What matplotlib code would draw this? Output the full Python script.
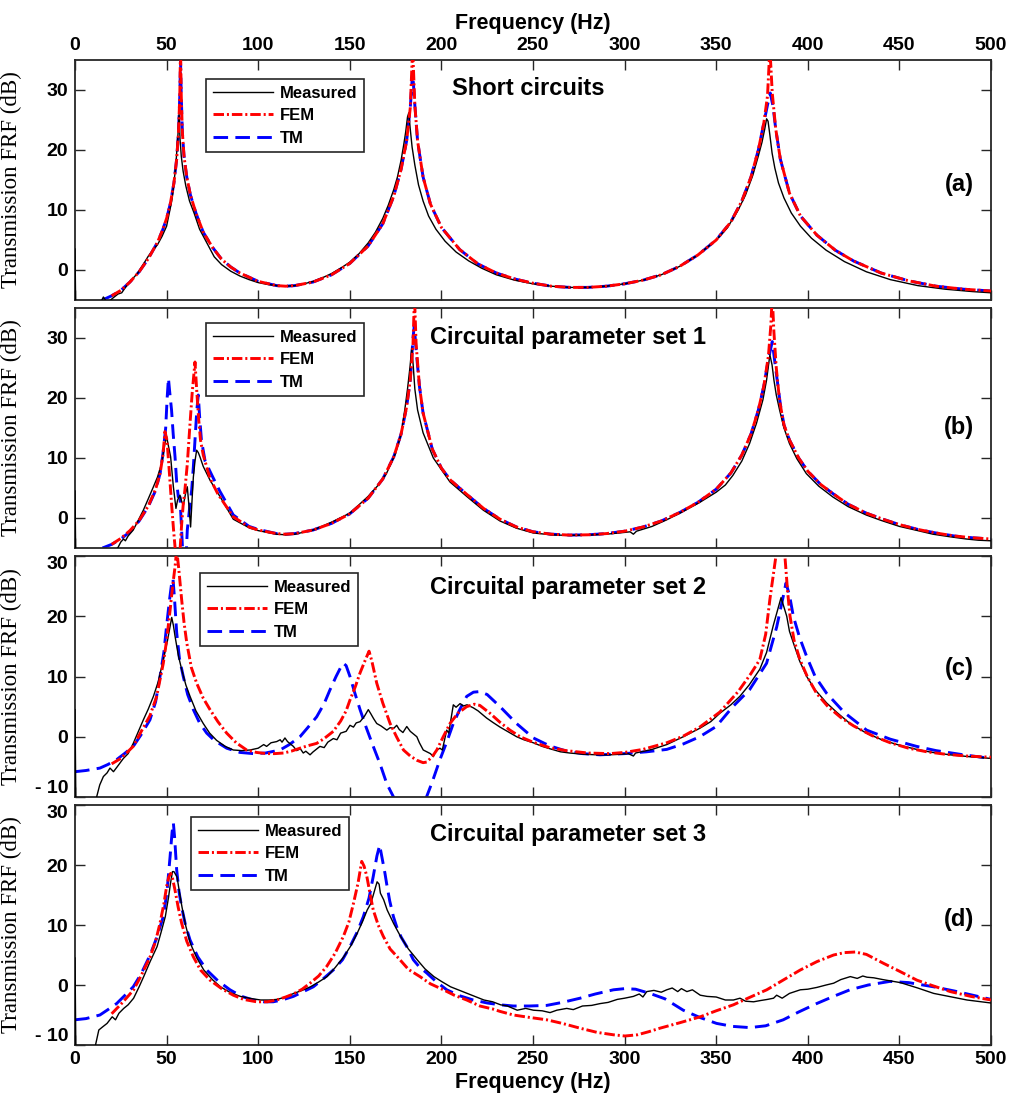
import matplotlib
matplotlib.use("Agg")
import matplotlib.pyplot as plt
import numpy as np

plt.rcParams['font.family'] = ['Liberation Sans', 'DejaVu Sans']
plt.rcParams['font.weight'] = 'bold'
plt.rcParams['axes.labelweight'] = 'bold'

# ---------------- Panel (a): Short circuits ----------------
a_meas_f = [0, 0.6, 8, 14, 15.5, 17, 19, 21, 23.5, 25.5, 28, 31, 34, 37, 40, 43, 45, 47.5, 50, 53, 55, 56.3, 56.8,
            57.3, 58, 59, 60.5, 62.5, 65, 68, 72, 76, 80, 85, 90, 95, 100, 105, 110, 115, 120, 125, 130, 135, 140,
            145, 150, 155, 160, 164, 168, 171, 174, 176, 178, 179.5, 180.5, 181.5, 182.2, 183, 184, 185.5, 187.5,
            190, 193, 197, 202, 208, 215, 222, 230, 240, 250, 260, 270, 280, 290, 300, 310, 320, 330, 340, 350,
            356, 362, 366, 370, 373, 375, 376.5, 377.5, 378.3, 379.3, 380.5, 382, 384, 387, 391, 396, 402, 410,
            420, 432, 445, 460, 475, 490, 500]
a_meas = [3.5, -12, -9, -5.4, -4.5, -5.2, -5.1, -4.6, -4.0, -3.8, -2.7, -1.6, -0.6, 0.8, 2.3, 3.5, 4.2, 5.6, 7.3, 11.8,
          17.3, 23, 26, 22, 19, 16.5, 14, 11.5, 9.5, 6.8, 4.5, 2.2, 0.9, -0.2, -1.0, -1.6, -2.1, -2.4, -2.6, -2.7,
          -2.6, -2.3, -1.9, -1.3, -0.6, 0.3, 1.3, 2.7, 4.5, 6.3, 8.6, 10.8, 13.4, 15.5, 18.3, 21, 23, 25.5, 26.2,
          23.5, 20.5, 17.5, 14.2, 11.5, 9.0, 6.8, 4.8, 3.0, 1.5, 0.3, -0.8, -1.7, -2.3, -2.7, -2.9, -2.9, -2.7,
          -2.3, -1.7, -0.8, 0.6, 2.5, 5.0, 7.0, 10.0, 12.5, 15.8, 19, 21.3, 23.5, 25.2, 24.8, 22.5, 19.5, 17,
          14.5, 12, 9.5, 7.3, 5.3, 3.3, 1.4, -0.3, -1.6, -2.6, -3.2, -3.6, -3.8]

a_fem_f = [20, 25, 30, 35, 40, 45, 48, 50, 52, 54, 55.5, 56.5, 57.2, 57.6, 58.0, 58.6, 59.5, 61, 63, 66, 70, 75,
           80, 85, 90, 100, 110, 115, 120, 130, 140, 150, 160, 168, 174, 178, 181, 183, 184.3, 185.5, 187, 190,
           194, 200, 210, 220, 230, 240, 250, 260, 270, 280, 290, 300, 310, 320, 330, 340, 350, 358, 364, 369,
           373, 376, 378, 379.3, 380.6, 382.5, 385, 390, 396, 405, 415, 425, 440, 455, 470, 485, 500]
a_fem = [-4.3, -3.4, -2.0, -0.3, 1.9, 4.6, 6.8, 8.6, 11, 14.5, 18.5, 23, 29, 37, 29, 23, 19, 15.5, 12.5, 9.5, 6.3,
         3.8, 1.8, 0.5, -0.5, -1.9, -2.6, -2.7, -2.6, -2.0, -0.8, 1.1, 4.0, 7.7, 12.3, 16.8, 21.5, 27, 37, 27.5,
         21.5, 15.5, 11, 7.1, 3.4, 1.0, -0.5, -1.5, -2.2, -2.7, -2.9, -2.9, -2.7, -2.3, -1.7, -0.8, 0.6, 2.5,
         5.0, 8.0, 11.5, 15.5, 20, 24.5, 29, 37, 29.5, 23.5, 18.5, 12.8, 9, 5.8, 3.3, 1.5, -0.5, -1.8, -2.7,
         -3.2, -3.5]

a_tm_f = [15, 20, 25, 30, 35, 40, 45, 48, 50, 52, 54, 55.5, 56.5, 57.2, 57.6, 58.0, 58.6, 59.5, 61, 63, 66, 70,
          75, 80, 85, 90, 100, 110, 115, 120, 130, 140, 150, 160, 168, 174, 178, 181, 183, 184.3, 185.5, 187,
          190, 194, 200, 210, 220, 230, 240, 250, 260, 270, 280, 290, 300, 310, 320, 330, 340, 350, 358, 364,
          369, 373, 376, 378, 379.5, 381, 382.5, 385, 390, 396, 405, 415, 425, 440, 455, 470, 485, 500]
a_tm = [-5.0, -4.3, -3.4, -2.0, -0.3, 1.9, 4.6, 6.8, 8.6, 11, 14.5, 18.5, 23, 29, 35, 29, 23, 19, 15.5, 12.5, 9.5,
        6.3, 3.8, 1.8, 0.5, -0.5, -1.9, -2.6, -2.7, -2.6, -2.0, -0.8, 1.1, 4.0, 7.7, 12.3, 16.8, 21.5, 27, 33,
        27.5, 21.5, 15.5, 11, 7.1, 3.4, 1.0, -0.5, -1.5, -2.2, -2.7, -2.9, -2.9, -2.7, -2.3, -1.7, -0.8, 0.6,
        2.5, 5.0, 8.0, 11.5, 15.5, 20, 24.5, 27.5, 29.5, 27.3, 23.5, 18.5, 12.8, 9, 5.8, 3.3, 1.5, -0.5, -1.8,
        -2.7, -3.2, -3.5]

# ---------------- Panel (b): Circuital parameter set 1 ----------------
b_meas_f = [0, 0.6, 10, 20, 23.5, 25, 26.5, 27.5, 29, 31.8, 34.5, 37.3, 40, 42.8, 45, 47.3, 49.1, 50, 51, 52.2, 53,
            53.7, 55.1, 56, 57.3, 58.2, 59.1, 60.3, 61.3, 62.2, 63.1, 63.8, 64.6, 65.5, 66.4, 67.3, 68.2, 70, 73.7,
            79.1, 86.4, 95.5, 100, 110, 115, 120, 130, 140, 150, 160, 165, 170, 175, 178, 180, 181.5, 182.8, 183.8,
            184.6, 185.5, 187, 190, 195.6, 204.7, 213.8, 222.9, 232, 241, 250.2, 260, 268.4, 280, 290, 300, 303,
            304.8, 306.5, 315, 323, 332, 341, 350, 355, 359.1, 364, 368.2, 372, 375.5, 377.5, 379.3, 380.5, 381.5,
            382.8, 384.6, 387, 390, 394, 399.2, 406, 413.7, 422, 431.9, 440, 450, 460, 468.3, 477, 486.5, 493, 500]
b_meas = [4.5, -12, -9, -6, -4.9, -4.0, -3.5, -3.8, -3.0, -2.0, -0.4, 1.3, 3.2, 5.2, 6.8, 9.1, 12.4, 13.6, 12,
          10.2, 7.5, 5.2, 1.6, 3.0, 3.8, 2.8, 2.1, 4.0, 5.2, 2, -1.5, 2.5, 6.8, 9.5, 11.3, 10.9, 10.2, 8.6, 6.3,
          3.6, -0.2, -1.7, -2.1, -2.7, -2.8, -2.7, -2.0, -0.7, 0.8, 3.6, 5.3, 7.4, 10.8, 14, 18, 21.5, 25, 28.3,
          25.5, 21.5, 18, 14.2, 10, 6, 3.6, 1.3, -0.5, -1.7, -2.5, -2.8, -2.9, -2.85, -2.7, -2.4, -2.3, -2.7,
          -2.2, -1.4, -0.3, 1.1, 2.6, 4.3, 5.5, 7.1, 9.5, 12.4, 15.8, 19.7, 23, 27.2, 25.5, 23, 20.5, 18, 15,
          12.4, 9.9, 7.4, 5.3, 3.5, 1.9, 0.5, -0.4, -1.4, -2.1, -2.7, -3.1, -3.5, -3.7, -3.8]

b_fem_f = [20, 25, 30, 35, 40, 44, 46.5, 48, 49.1, 50.2, 51.3, 52.7, 53.8, 54.6, 55.3, 56.2, 57.2, 58.2, 59, 60,
           61.3, 62.8, 64, 65.5, 66.5, 67.5, 68.5, 70, 73.7, 78, 86.4, 95, 100, 110, 115, 120, 130, 140, 150, 160,
           168, 174, 178, 181, 183, 184.5, 185.3, 186.2, 188, 190, 195, 200, 205, 214, 223, 232, 241, 250, 260,
           270, 280, 290, 300, 310, 320, 330, 340, 350, 358, 364, 369, 373, 376, 378.5, 379.8, 380.6, 381.5,
           382.8, 384.6, 387, 390, 395, 400, 407, 414, 422, 432, 441, 450, 460, 470, 480, 490, 500]
b_fem = [-4.4, -3.4, -2.1, -0.4, 2.0, 4.8, 7.5, 10.5, 14.4, 13, 8.5, 2.4, -2, -4.8, -9, -12, -6, -1.1, 2, 4.7, 9,
         15.8, 21, 26, 21, 16.5, 13, 10.5, 6.6, 4.0, 0.2, -1.5, -2.0, -2.6, -2.7, -2.6, -2.0, -0.9, 0.7, 3.3, 6.5,
         10.2, 14, 18.5, 23, 29, 37, 29, 22, 17.5, 11.5, 8.3, 6.3, 3.9, 1.6, -0.2, -1.5, -2.3, -2.7, -2.85, -2.8,
         -2.6, -2.2, -1.5, -0.5, 0.9, 2.6, 4.8, 7.5, 10.5, 14, 18, 22, 27, 32, 37, 31, 25, 19.5, 15.5, 13, 10,
         7.8, 5.6, 4.0, 2.3, 0.8, -0.2, -1.1, -1.9, -2.5, -3.0, -3.3, -3.5]

b_tm_f = [15, 20, 25, 30, 35, 40, 44, 46.5, 48, 49.5, 50.3, 51, 51.7, 52.7, 53.6, 54.6, 55.5, 56.4, 57.3, 58.2, 59,
          60, 61, 61.3, 62.5, 63.7, 64.6, 65.5, 66.5, 67.3, 68, 69, 71, 74.6, 79, 86.4, 95, 100, 110, 115, 120,
          130, 140, 150, 160, 168, 174, 178, 181, 183, 184.5, 185.2, 186.2, 188, 190, 195, 200, 205, 214, 223,
          232, 241, 250, 260, 270, 280, 290, 300, 310, 320, 330, 340, 350, 358, 364, 369, 373, 376, 378.5, 380.6,
          382, 383.5, 385, 387, 390, 395, 400, 407, 414, 422, 432, 441, 450, 460, 470, 480, 490, 500]
b_tm = [-5.0, -4.4, -3.5, -2.3, -0.5, 1.9, 4.6, 7.5, 10.7, 15, 20, 23.3, 21, 18, 14, 10.2, 6, 3.5, 3.5, -2, -7, -12,
        -4, -2, 1.5, 4.7, 8.5, 13, 18, 20.5, 17, 13, 9.5, 7.2, 4.5, 0.5, -1.4, -1.9, -2.6, -2.7, -2.6, -2.0,
        -0.9, 0.7, 3.3, 6.5, 10.2, 14, 18.5, 23, 30, 32, 28, 22, 17.5, 11.5, 8.3, 6.3, 3.9, 1.6, -0.2, -1.5,
        -2.3, -2.7, -2.85, -2.8, -2.6, -2.2, -1.5, -0.5, 0.9, 2.6, 4.8, 7.5, 10.5, 14, 18, 22, 26.5, 29.4, 26,
        22.5, 19, 15.5, 13, 10, 7.8, 5.6, 4.0, 2.3, 0.8, -0.2, -1.1, -1.9, -2.5, -3.0, -3.3, -3.5]

# ---------------- Panel (c): Circuital parameter set 2 ----------------
c_meas_f = [0, 0.6, 10, 11.8, 13.5, 15.5, 17.5, 19.1, 21, 23, 26.4, 29, 31.8, 34.5, 37.3, 40, 42.8, 45.5, 48.2,
            50.5, 52, 52.8, 53.7, 54.6, 56.4, 58.2, 60.5, 62.8, 66, 70, 73.5, 77.3, 82, 86.4, 91, 95.5, 100, 103,
            104.6, 107, 110.1, 112, 113, 114.6, 116, 119.2, 121, 123, 124.6, 126, 128.3, 130, 133.7, 136, 138, 141,
            143, 145, 148, 150.1, 152, 153.5, 155.6, 158, 160.1, 161.5, 163, 164.7, 167, 170.2, 172, 174, 175.6,
            177, 179, 181.1, 183, 186.6, 188, 190.1, 192, 194, 195.6, 197, 199.2, 200.5, 202.9, 204, 206.5, 208,
            210.2, 212, 214, 217.4, 220, 224.7, 228, 232, 236, 241.1, 245, 250.2, 255, 259.3, 265, 270, 277.5,
            285, 292, 298, 302, 304.8, 306, 315, 323, 332, 341, 347, 352, 358, 362.9, 368, 373.8, 377.5, 381.1,
            383.5, 385.4, 386.5, 388.5, 390, 392.1, 395.5, 399.4, 404, 410.3, 416, 423, 432, 441.2, 450, 459.4,
            468, 477.6, 488, 500]
c_meas = [4.5, -15, -11, -10, -8, -6.6, -6.0, -5.2, -5.8, -5.0, -3.6, -2.8, -1.1, 0.8, 2.8, 4.6, 6.7, 9.2, 12.8,
          16, 18.5, 19.8, 18.5, 16.7, 13.5, 11.2, 8.6, 6.7, 4.3, 2.2, 0.6, -0.6, -1.6, -2.2, -2.3, -2.2, -1.9,
          -1.3, -1.6, -1.0, -0.8, -0.5, -0.9, -0.2, -0.8, -1.6, -2.3, -2.0, -2.7, -2.4, -3.0, -2.5, -1.6, -1.8,
          -0.9, -0.3, -0.5, 0.6, 0.9, 1.9, 1.6, 2.3, 2.5, 3.4, 4.5, 3.8, 3.0, 2.2, 1.8, 1.1, 1.5, 1.4, 1.9, 1.2,
          0.7, 1.7, 0.9, 0.0, -1.0, -2.2, -2.5, -2.8, -3.3, -2.3, -1.9, -2.2, 1.1, 0.6, 5.3, 4.9, 5.5, 5.1, 5.3,
          4.8, 4.3, 3.1, 2.4, 1.6, 0.9, 0.0, -0.5, -1.0, -1.6, -2.0, -2.5, -2.7, -2.9, -3.0, -3.0, -2.9, -2.8,
          -3.2, -2.7, -2.1, -1.3, 0.0, 1.4, 2.5, 3.9, 5.3, 6.7, 8.6, 11.2, 14, 18.4, 21, 23.1, 22, 20, 17.5, 15.6,
          12.6, 10.0, 7.8, 5.6, 4.0, 2.2, 0.6, -0.6, -1.4, -2.1, -2.6, -3.0, -3.3, -3.6]

c_fem_f = [20, 25, 31.8, 36, 40.9, 44.5, 48.2, 50, 51.9, 53.3, 54.6, 55.5, 56.6, 58.2, 59.5, 61, 63.5, 66.4, 70,
           73.7, 78, 82.8, 88, 93.7, 99, 104.6, 109, 113.8, 118, 122.8, 127, 131.9, 136, 141, 145, 148, 150.1, 153,
           155.6, 158, 160.5, 162, 164.7, 168, 172, 175.5, 179.3, 183, 186.6, 190, 192, 195, 197.5, 201, 204.7,
           209, 213.8, 218, 221, 226.5, 232, 237.4, 243, 250, 259, 268, 280, 292, 300, 310, 323, 332, 341, 352,
           362, 369, 373.8, 377, 379.3, 381, 382.6, 383.8, 385.3, 387.5, 389, 390.3, 392.5, 395.7, 400, 404.8,
           411, 418, 425, 435, 445, 455, 465, 475, 487, 500]
c_fem = [-4.5, -3.6, -1.6, 0.8, 3.5, 6.6, 12.2, 16, 21, 25, 28.2, 31, 28, 22.8, 19, 15.6, 11.5, 8.9, 6.4, 4.5, 2.5,
         0.6, -1.0, -2.2, -2.6, -2.8, -2.8, -2.7, -2.4, -1.9, -1.5, -1.1, -0.3, 0.9, 2.6, 4.3, 6.1, 8.3, 10.6,
         12.4, 14.2, 12.6, 8.9, 5.6, 2.2, 0.0, -2.2, -3.2, -3.9, -4.3, -4.2, -3.3, -2.2, 0.0, 2.2, 3.9, 5.0, 5.4,
         5.2, 3.9, 2.4, 1.1, 0.0, -0.9, -1.8, -2.3, -2.7, -2.8, -2.6, -2.1, -1.0, 0.1, 1.6, 4.1, 7.5, 10.5, 12.8,
         17, 22.8, 26.5, 30, 33, 33, 30, 24, 20, 16, 12.8, 9.8, 7.2, 5.0, 3.2, 1.8, 0.2, -1.0, -1.9, -2.5, -2.9,
         -3.2, -3.4]

c_tm_f = [0, 6, 13.6, 18, 22.7, 27, 31.8, 36, 40.9, 44, 46.4, 48.5, 50, 51.5, 52.8, 53.5, 54.3, 55.5, 57, 59.1,
          61.5, 64.6, 68, 71.9, 76, 82.8, 90, 97.3, 104, 111.9, 117, 122.8, 127, 131.9, 136, 139.2, 142.5, 145,
          146.5, 148, 150.1, 152.5, 155.6, 159, 162.8, 166.5, 170.2, 174.7, 178, 188, 191.5, 195, 199.2, 203,
          206.5, 210, 213.8, 217.5, 221.1, 225, 232, 241, 250.2, 259, 268.4, 277, 286.6, 300, 312, 323, 332, 341,
          350, 359.1, 368.2, 377.5, 383, 386.6, 388.1, 390, 392.1, 395.5, 399.4, 404, 410.3, 420, 432.1, 445,
          459.4, 470, 485, 500]
c_tm = [-5.8, -5.6, -5.2, -4.6, -3.8, -2.8, -1.6, 0.3, 2.8, 5.8, 10, 14, 18.4, 22.5, 25.6, 26.2, 23, 17.3, 13, 10,
        7, 4.5, 2.3, 0.6, -0.6, -1.9, -2.6, -2.8, -2.7, -2.2, -1.3, 0.0, 1.5, 3.3, 5.5, 7.8, 10, 11.5, 12.2,
        11.8, 10, 7.5, 4.5, 1.5, -1.6, -4.5, -7.8, -10.5, -13, -13, -10.3, -7.5, -3.8, -0.8, 2.2, 4.5, 6.7, 7.4,
        7.5, 7.0, 5.0, 2.2, -0.2, -1.5, -2.4, -2.8, -3.0, -2.8, -2.5, -2.1, -1.2, 0.0, 1.7, 5.0, 7.8, 12.2, 18.2,
        23.3, 25.5, 23.5, 20, 16.5, 13.3, 10, 7.2, 4.0, 1.1, -0.4, -1.6, -2.3, -3.0, -3.6]

# ---------------- Panel (d): Circuital parameter set 3 ----------------
d_meas_f = [0, 0.6, 8, 11.2, 13, 15, 17.5, 19, 20.3, 22.1, 24, 26.6, 29, 32, 35, 37.5, 41, 44.8, 47, 49.3, 51,
            52.1, 53.2, 54, 55.7, 57, 58.4, 60.5, 63, 66.5, 70.3, 75, 79.4, 85, 90.3, 95, 101.3, 106, 110.3, 115,
            119.4, 124, 128.5, 133, 137.6, 142, 146.7, 150.5, 154, 157, 159.5, 161.5, 163.1, 164.9, 166, 166.7,
            168.5, 170.4, 174, 177.7, 182, 186.8, 191, 195.9, 200, 205, 210, 214.1, 219, 223.2, 228, 232.3, 236,
            241.4, 246, 250.2, 255, 259.3, 263, 268.4, 272, 277, 282, 286.6, 291, 296, 300, 304.8, 308, 310, 312.1,
            316, 320, 323, 326, 329, 331, 334, 337, 341.3, 345, 350, 355, 359.4, 363, 366, 370.4, 374, 378, 381.3,
            383, 386, 390, 395.9, 400, 405, 410, 414.1, 418, 423.2, 427, 430, 432.3, 436, 441, 450.5, 460, 468.7,
            477, 486.9, 495, 500]
d_meas = [4.5, -15, -12, -10, -7.5, -7.0, -6.4, -5.8, -5.3, -5.8, -4.7, -3.9, -3.3, -2.2, -0.3, 1.4, 3.9, 6.4,
          8.8, 11.4, 14.5, 16.9, 18.9, 18.9, 18.0, 15.5, 13, 9.8, 6.9, 4.5, 2.5, 0.9, -0.3, -1.3, -1.9, -2.2,
          -2.5, -2.5, -2.4, -2.0, -1.4, -0.9, -0.3, 0.5, 1.4, 2.9, 4.7, 6.5, 8.6, 10.6, 12.5, 13.6, 15.3, 17.2,
          16.8, 15.3, 14.2, 12.5, 10.2, 8.1, 6.0, 4.2, 2.7, 1.4, 0.6, -0.3, -0.9, -1.4, -2.0, -2.5, -2.8, -3.3,
          -3.5, -4.2, -3.9, -4.2, -4.3, -4.6, -4.2, -3.9, -4.1, -3.5, -3.4, -3.1, -2.9, -2.4, -2.2, -1.9, -1.5,
          -2.0, -1.1, -0.9, -1.2, -0.8, -0.5, -1.1, -0.6, -1.1, -0.8, -1.7, -1.9, -2.0, -2.5, -2.5, -2.2, -2.7,
          -2.8, -2.6, -2.4, -2.2, -1.7, -2.2, -1.4, -0.8, -0.7, -0.4, 0.0, 0.3, 0.9, 1.4, 1.1, 1.5, 1.3, 1.2, 0.9,
          0.4, -0.5, -1.4, -1.9, -2.5, -2.8, -3.0]

d_fem_f = [20, 26, 32, 36, 41, 44, 46.4, 48.5, 50, 51.2, 52.2, 53.3, 54.6, 56.3, 58.2, 61, 64.6, 68.5, 73.7, 80,
           86.4, 92, 99.1, 105, 110.1, 115, 119.2, 124, 128.3, 133, 137.4, 142, 146.5, 149.5, 152, 154.5, 156.5,
           157.8, 159.3, 161, 162.8, 165.5, 168.3, 172, 177.4, 182, 188.3, 194, 201.1, 207, 213.8, 221, 228, 232,
           239.3, 248, 257.5, 266, 275.7, 285, 293.9, 300.2, 307, 313, 319.3, 330, 341.3, 350, 359.4, 368, 377.6,
           387, 395.9, 405, 414.1, 420, 425.9, 432, 441.4, 450, 459.6, 468, 477.8, 489, 500]
d_fem = [-4.8, -2.9, -0.8, 1.5, 4.7, 7.3, 10.3, 13.5, 16.4, 18, 18.6, 17.7, 15.8, 13, 10.3, 7.3, 4.7, 2.5, 0.8,
         -0.6, -1.7, -2.4, -2.8, -2.8, -2.5, -2.0, -1.5, -0.7, 0.3, 1.5, 3.1, 5.3, 8.1, 10.5, 13.6, 17, 20.6, 19.8,
         18.1, 15.3, 12.5, 10, 8.1, 6.0, 4.2, 2.6, 1.4, 0.2, -0.8, -1.7, -2.5, -3.5, -4.0, -4.4, -5.0, -5.4, -5.8,
         -6.4, -7.2, -7.9, -8.3, -8.5, -8.3, -7.8, -7.2, -6.3, -5.3, -4.3, -3.3, -2.1, -0.8, 0.9, 2.5, 3.9, 5.0,
         5.4, 5.5, 5.1, 3.6, 2.3, 0.8, -0.1, -1.1, -1.9, -2.5]

d_tm_f = [0, 6, 13.6, 18, 22.7, 27, 31.8, 36, 41, 44.5, 48.2, 50.2, 51.9, 53, 53.7, 54.4, 55.5, 56.8, 58.2, 60.3,
          62.8, 67, 71.9, 78, 84.6, 91, 97.3, 103, 108.2, 113, 119.2, 124, 130.1, 135, 141, 146, 150.1, 154, 157.4,
          160.5, 162.8, 164.8, 166.3, 167.6, 169.2, 170.1, 171.8, 173.8, 175.6, 178, 181.1, 184.7, 188, 192, 197,
          202.9, 210, 217.4, 225, 232, 239.3, 248, 257.5, 266, 275.7, 284, 293.9, 300.2, 306, 313.8, 322, 332,
          341, 350.2, 359, 368.4, 377, 386.6, 395, 404.8, 414, 423, 433, 444.8, 455, 468.7, 480, 490, 500]
d_tm = [-5.8, -5.6, -5.0, -4.1, -3.1, -1.8, -0.3, 1.8, 5.0, 7.8, 11.4, 15.5, 21.4, 25.5, 27, 24.5, 19.2, 15.5, 13,
        10, 7.5, 4.7, 2.5, 0.7, -0.8, -1.9, -2.5, -2.8, -2.8, -2.5, -1.9, -1.2, -0.3, 0.9, 2.5, 4.2, 6.4, 8.8,
        11.4, 14.5, 18.1, 21.5, 23.3, 21.2, 18.6, 16.9, 14, 11.4, 9.7, 8.0, 6.4, 4.2, 3.0, 2.0, 0.6, -0.8, -1.8,
        -2.5, -3.0, -3.3, -3.5, -3.5, -3.4, -2.9, -2.2, -1.5, -0.8, -0.6, -0.7, -1.4, -2.3, -4.2, -5.4, -6.4,
        -6.9, -7.1, -6.8, -5.8, -4.5, -3.1, -1.9, -0.8, 0.0, 0.6, 0.4, -0.3, -1.0, -1.7, -2.4]

titles = ["Short circuits", "Circuital parameter set 1", "Circuital parameter set 2", "Circuital parameter set 3"]
letters = ["(a)", "(b)", "(c)", "(d)"]
series_labels = ["Measured", "FEM", "TM"]
x_ticks = [0, 50, 100, 150, 200, 250, 300, 350, 400, 450, 500]
ylims = [(-5, 35), (-5, 35), (-10, 30), (-10, 30)]
y_ticks = [[0, 10, 20, 30], [0, 10, 20, 30], [-10, 0, 10, 20, 30], [-10, 0, 10, 20, 30]]
y_ticklabels = [["0", "10", "20", "30"], ["0", "10", "20", "30"],
                ["- 10", "0", "10", "20", "30"], ["- 10", "0", "10", "20", "30"]]

panels = [
    (a_meas_f, a_meas, a_fem_f, a_fem, a_tm_f, a_tm),
    (b_meas_f, b_meas, b_fem_f, b_fem, b_tm_f, b_tm),
    (c_meas_f, c_meas, c_fem_f, c_fem, c_tm_f, c_tm),
    (d_meas_f, d_meas, d_fem_f, d_fem, d_tm_f, d_tm),
]

W, H = 1009, 1101
fig = plt.figure(figsize=(W / 100, H / 100), dpi=100)

ax_px = [(60, 300), (308, 548), (556, 797), (805, 1045)]
left_px, right_px = 75, 991
title_pos = [(0.4116, 0.883), (0.3876, 0.879), (0.3876, 0.871), (0.3876, 0.875)]
letter_pos = [(0.965, 0.48), (0.965, 0.504), (0.965, 0.535), (0.965, 0.521)]
leg_pos = [(0.143, 0.921), (0.143, 0.9375), (0.1365, 0.9295), (0.1266, 0.95)]

spine_col = '#262626'
for i, (top, bot) in enumerate(ax_px):
    ax = fig.add_axes([left_px / W, 1 - bot / H, (right_px - left_px) / W, (bot - top) / H])
    mf, mv, ff, fv, tf, tv = panels[i]
    ax.plot(mf, mv, color='black', lw=1.0, label=series_labels[0], zorder=3)
    ax.plot(ff, fv, color='#ff0000', lw=2.1, dashes=(3.6, 1.0, 0.7, 1.0), label=series_labels[1], zorder=4)
    ax.plot(tf, tv, color='#0000ff', lw=2.1, dashes=(5.0, 2.5), label=series_labels[2], zorder=2)
    ax.set_xlim(0, 500)
    ax.set_ylim(*ylims[i])
    ax.set_xticks(x_ticks)
    ax.set_yticks(y_ticks[i])
    ax.set_yticklabels(y_ticklabels[i])
    ax.tick_params(direction='in', length=7, width=1.0, color=spine_col, labelsize=14,
                   top=True, right=True, pad=5)
    if i >= 2:
        labs = ax.get_yticklabels()
        labs[-1].set_va('top')
        labs[0].set_va('bottom')
    if i == 0:
        ax.tick_params(axis='x', labeltop=True, labelbottom=False, pad=4)
        ax.set_xticklabels([str(v) for v in x_ticks])
        ax.xaxis.set_label_position('top')
        ax.set_xlabel("Frequency (Hz)", fontsize=15.5, fontweight='bold', labelpad=6)
    elif i == 3:
        ax.tick_params(axis='x', labelbottom=True, pad=4)
        ax.set_xlabel("Frequency (Hz)", fontsize=15.5, fontweight='bold', labelpad=3)
    else:
        ax.tick_params(axis='x', labelbottom=False)
    for s in ax.spines.values():
        s.set_color(spine_col)
        s.set_linewidth(1.3)
    ax.set_ylabel("Transmission FRF (dB)", family=['Liberation Serif', 'DejaVu Serif'],
                  fontsize=16.5, fontweight='normal')
    ax.yaxis.set_label_coords(-0.058, 0.5)
    ax.text(title_pos[i][0], title_pos[i][1], titles[i], transform=ax.transAxes, fontsize=17,
            ha='left', va='center')
    ax.text(letter_pos[i][0], letter_pos[i][1], letters[i], transform=ax.transAxes, fontsize=17,
            ha='center', va='center')
    leg = ax.legend(loc='upper left', bbox_to_anchor=leg_pos[i], borderaxespad=0,
                    prop={'size': 12, 'weight': 'bold'},
                    handlelength=3.6, handletextpad=0.45, labelspacing=0.45, borderpad=0.4,
                    frameon=True, fancybox=False, edgecolor='#262626', framealpha=1)
    leg.get_frame().set_linewidth(1.2)

fig.savefig("out.png", dpi=100)
